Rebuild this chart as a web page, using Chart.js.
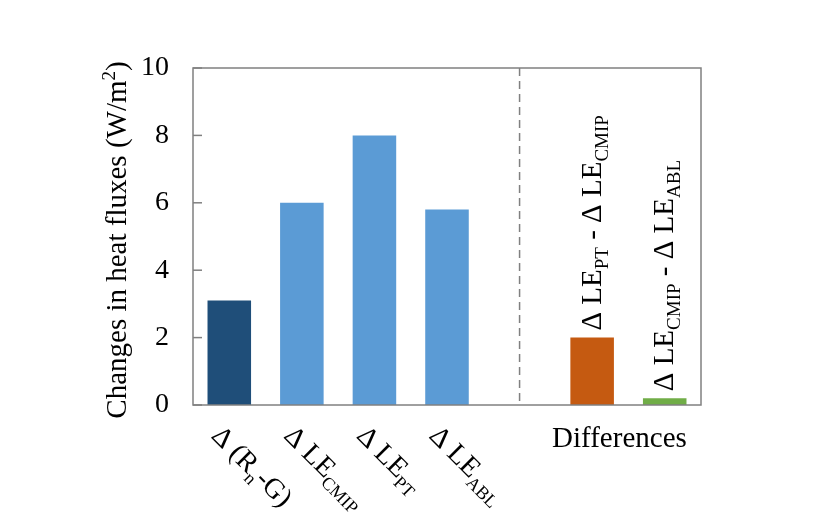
<!DOCTYPE html>
<html>
<head>
<meta charset="utf-8">
<script src="https://cdn.jsdelivr.net/npm/chart.js@4"></script>
<style>
  html, body { margin: 0; padding: 0; background: #fff; }
  canvas { display: block; }
</style>
</head>
<body>
<canvas id="chart" width="815" height="524"></canvas>
<script>
// categories (slot 4 is the empty gap where the dashed divider sits)
const categories = ['Δ (Rn-G)', 'Δ LE CMIP', 'Δ LE PT', 'Δ LE ABL', '', 'Δ LE PT - Δ LE CMIP', 'Δ LE CMIP - Δ LE ABL'];
const values = [3.1, 6.0, 8.0, 5.8, null, 2.0, 0.2];
const yTicks = [0, 2, 4, 6, 8, 10];
const groupLabel = 'Differences';
const yTitle = [['Changes in heat fluxes (W/m', 0], ['2', 2], [')', 0]];
// label pieces: 0 = normal, 1 = subscript, 2 = superscript
const labelParts = [
    [['Δ (R', 0], ['n', 1], ['-G)', 0]],
    [['Δ LE', 0], ['CMIP', 1]],
    [['Δ LE', 0], ['PT', 1]],
    [['Δ LE', 0], ['ABL', 1]],
    [],
    [['Δ LE', 0], ['PT', 1], [' - Δ LE', 0], ['CMIP', 1]],
    [['Δ LE', 0], ['CMIP', 1], [' - Δ LE', 0], ['ABL', 1]]
];
const barColors = ['#1f4e79', '#5b9bd5', '#5b9bd5', '#5b9bd5', '#ffffff', '#c55a11', '#70ad47'];

const FONT = '"Liberation Serif", "Times New Roman", serif';

function partFont(kind, size) {
    return (kind ? Math.round(size * 0.66) : size) + 'px ' + FONT;
}
function richWidth(ctx, parts, size) {
    let w = 0;
    parts.forEach(p => { ctx.font = partFont(p[1], size); w += ctx.measureText(p[0]).width; });
    return w;
}
function drawRich(ctx, parts, x, y, size) {
    ctx.textAlign = 'left';
    ctx.textBaseline = 'alphabetic';
    parts.forEach(p => {
        ctx.font = partFont(p[1], size);
        let dy = 0;
        if (p[1] === 1) dy = size * 0.24;
        if (p[1] === 2) dy = -size * 0.38;
        ctx.fillText(p[0], x, y + dy);
        x += ctx.measureText(p[0]).width;
    });
}

const decorations = {
    id: 'decorations',
    afterDraw(chart) {
        const ctx = chart.ctx;
        const a = chart.chartArea;
        const xs = chart.scales.x, ys = chart.scales.y;
        ctx.save();

        // plot frame
        ctx.strokeStyle = '#808080';
        ctx.lineWidth = 1.5;
        ctx.strokeRect(a.left, a.top, a.right - a.left, a.bottom - a.top);

        // inward ticks on y axis
        yTicks.forEach(v => {
            const y = ys.getPixelForValue(v);
            ctx.beginPath();
            ctx.moveTo(a.left, y);
            ctx.lineTo(a.left + 9, y);
            ctx.stroke();
        });

        // dashed divider
        const xd = xs.getPixelForValue(4);
        ctx.strokeStyle = '#808080';
        ctx.setLineDash([8, 5]);
        ctx.beginPath();
        ctx.moveTo(xd, a.top);
        ctx.lineTo(xd, a.bottom);
        ctx.stroke();
        ctx.setLineDash([]);

        ctx.fillStyle = '#000';

        // y title
        const ts = 29;
        const tw = richWidth(ctx, yTitle, ts);
        ctx.save();
        ctx.translate(126, 240);
        ctx.rotate(-Math.PI / 2);
        drawRich(ctx, yTitle, -tw / 2, 0, ts);
        ctx.restore();

        // rotated category labels under the first four bars
        for (let i = 0; i < 4; i++) {
            const c = xs.getPixelForValue(i);
            ctx.save();
            ctx.translate(c - 19, 437);
            ctx.rotate(Math.PI / 4);
            drawRich(ctx, labelParts[i], 0, 0, 28);
            ctx.restore();
        }

        // vertical labels above the difference bars
        [5, 6].forEach(i => {
            const c = xs.getPixelForValue(i);
            const top = ys.getPixelForValue(values[i]);
            const start = Math.min(top - 7, a.bottom - 8);
            ctx.save();
            ctx.translate(c + 8.5, start);
            ctx.rotate(-Math.PI / 2);
            drawRich(ctx, labelParts[i], 0, 0, 29);
            ctx.restore();
        });

        // group label
        ctx.font = '29px ' + FONT;
        ctx.textAlign = 'center';
        ctx.textBaseline = 'alphabetic';
        ctx.fillText(groupLabel, (xs.getPixelForValue(5) + xs.getPixelForValue(6)) / 2 - 9, 447);

        ctx.restore();
    }
};

new Chart(document.getElementById('chart').getContext('2d'), {
    type: 'bar',
    data: {
        labels: categories,
        datasets: [{
            data: values,
            backgroundColor: barColors,
            borderWidth: 0,
            barPercentage: 0.6,
            categoryPercentage: 1.0
        }]
    },
    options: {
        responsive: false,
        animation: false,
        devicePixelRatio: 1,
        layout: { padding: { top: 68, right: 114, left: 0, bottom: 0 } },
        plugins: { legend: { display: false }, tooltip: { enabled: false } },
        scales: {
            x: {
                grid: { display: false },
                border: { display: false },
                ticks: { display: false },
                afterFit: s => { s.height = 119; }
            },
            y: {
                min: 0,
                max: 10,
                grid: { display: false },
                border: { display: false },
                ticks: {
                    stepSize: 2,
                    padding: 16,
                    color: '#000',
                    font: { family: FONT, size: 28 }
                },
                afterFit: s => { s.width = 193; }
            }
        }
    },
    plugins: [decorations]
});
</script>
</body>
</html>
